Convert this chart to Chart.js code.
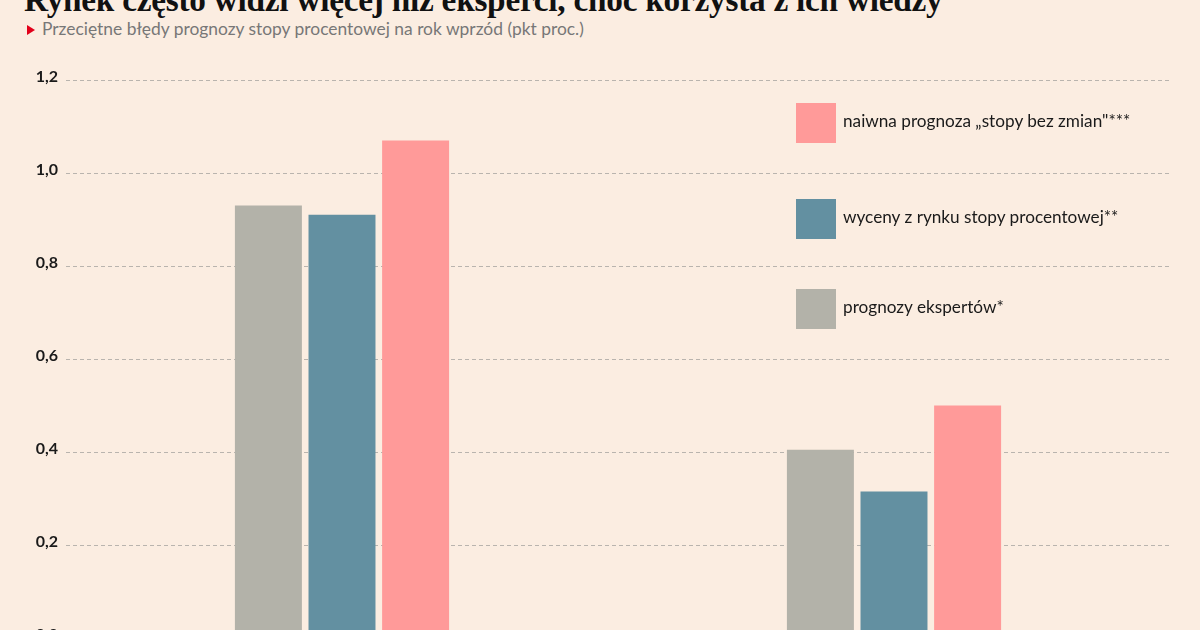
<!DOCTYPE html>
<html><head><meta charset="utf-8">
<script src="https://cdn.jsdelivr.net/npm/chart.js@4"></script>
<style>
html,body{margin:0;padding:0;width:1200px;height:630px;overflow:hidden;background:#FBEDE1;}
#title{position:absolute;left:24px;top:-19px;font-family:"Liberation Serif",serif;font-weight:bold;font-size:33.3px;color:#111;white-space:nowrap;letter-spacing:-0.25px;}
#sub{position:absolute;left:27px;top:18px;font-family:Lato,sans-serif;font-size:17.4px;color:#777;white-space:nowrap;}
#sub .tri{display:inline-block;width:0;height:0;border-top:5.5px solid transparent;border-bottom:5.5px solid transparent;border-left:8px solid #e2001a;margin-right:7px;vertical-align:0px;}
#wrap{position:absolute;left:0;top:0;width:1200px;height:700px;}
#legend{position:absolute;left:796px;top:103px;font-family:Lato,sans-serif;font-size:17.2px;color:#1a1a1a;}
.li{position:absolute;left:0;white-space:nowrap;height:40px;}
.li .box{position:absolute;left:0;top:0;width:40px;height:40px;}
.li .tx{position:absolute;left:47px;top:7px;}
</style></head><body>
<div id="title">Rynek często widzi więcej niż eksperci, choć korzysta z ich wiedzy</div>
<div id="sub"><span class="tri"></span>Przeciętne błędy prognozy stopy procentowej na rok wprzód (pkt proc.)</div>
<div id="wrap"><canvas id="c" width="1200" height="700"></canvas></div>
<div id="legend"></div>
<script>
const categories = ["okres 1", "okres 2"];
const seriesNames = ["prognozy ekspertów*", "wyceny z rynku stopy procentowej**", "naiwna prognoza „stopy bez zmian\"***"];
const expertValues = [0.93, 0.405];
const marketValues = [0.91, 0.315];
const naiveValues = [1.07, 0.50];
const yTicks = [0, 0.2, 0.4, 0.6, 0.8, 1.0, 1.2];
const colors = ["#B3B2A9", "#6390A1", "#FF9A99"];

const datasets = [expertValues, marketValues, naiveValues].map((d, i) => ({
  label: seriesNames[i], data: d, backgroundColor: colors[i], borderWidth: 0,
  categoryPercentage: 0.4, barPercentage: 0.91
}));

new Chart(document.getElementById('c'), {
  type: 'bar',
  data: { labels: categories, datasets },
  options: {
    responsive: false, animation: false,
    layout: { padding: { top: 80, bottom: 62, right: 30, left: 0 } },
    plugins: { legend: { display: false }, tooltip: { enabled: false } },
    scales: {
      x: { display: false },
      y: {
        min: 0, max: 1.2,
        afterBuildTicks: s => { s.ticks = yTicks.map(v => ({ value: v })); },
        afterFit: s => { s.width = 66; },
        border: { display: false, dash: [4, 3] },
        grid: { color: '#B9B4AE', lineWidth: 1, drawTicks: false },
        ticks: {
          padding: 8, color: '#1a1a1a',
          font: { family: 'Lato', size: 16, weight: 'bold', lineHeight: '7px' },
          callback: v => [v.toFixed(1).replace('.', ','), '']
        }
      }
    }
  }
});

const lg = document.getElementById('legend');
[2, 1, 0].forEach((idx, k) => {
  const tops = [0, 96, 186];
  const el = document.createElement('div');
  el.className = 'li'; el.style.top = tops[k] + 'px';
  el.innerHTML = '<div class="box" style="background:' + colors[idx] + '"></div><div class="tx"></div>';
  el.querySelector('.tx').textContent = seriesNames[idx];
  lg.appendChild(el);
});
</script>
</body></html>
